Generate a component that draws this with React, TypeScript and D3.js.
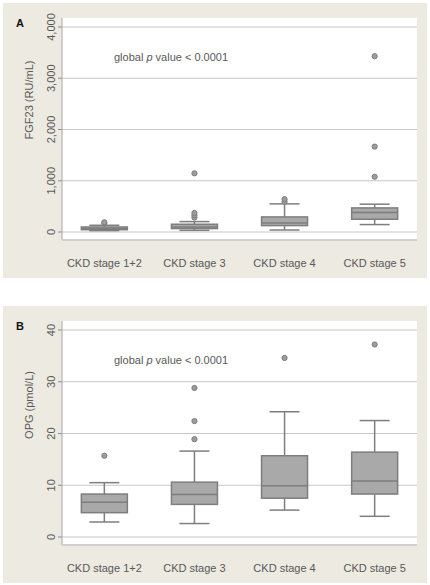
import React from "react";
import * as d3 from "d3";

const categories = ["CKD stage 1+2", "CKD stage 3", "CKD stage 4", "CKD stage 5"];

// Panel A: FGF23 (RU/mL)
const fgfLow = [27, 33, 39, 145];
const fgfQ1 = [45, 67, 125, 249];
const fgfMedian = [70, 100, 176, 380];
const fgfQ3 = [98, 151, 294, 470];
const fgfHigh = [131, 203, 549, 543];
const fgfOutliers = [[170, 190], [282, 327, 372, 1145], [588, 641], [1078, 1666, 3430]];
const fgfTicks = [0, 1000, 2000, 3000, 4000];

// Panel B: OPG (pmol/L)
const opgLow = [2.9, 2.6, 5.2, 4.0];
const opgQ1 = [4.7, 6.3, 7.5, 8.3];
const opgMedian = [6.7, 8.2, 9.9, 10.8];
const opgQ3 = [8.3, 10.6, 15.7, 16.4];
const opgHigh = [10.5, 16.6, 24.2, 22.5];
const opgOutliers = [[15.7], [18.9, 22.4, 28.8], [34.6], [37.2]];
const opgTicks = [0, 10, 20, 30, 40];

const FONT = "'Liberation Sans', Arial, sans-serif";
const TEXT = "#595959";

type PanelProps = {
  top: number;
  height: number;
  letter: string;
  yTitle: string;
  titleCenter: number;
  domainMax: number;
  ticks: number[];
  low: number[];
  q1: number[];
  med: number[];
  q3: number[];
  high: number[];
  outliers: number[][];
  tickFormat: (v: number) => string;
};

function Panel(p: PanelProps) {
  const bgX = 3, bgW = 424;
  const plotL = 62, plotR = 417;
  const plotT = p.top + 15;
  const plotB = p.top + p.height - 38;
  const y0 = plotB - 8;
  const y1 = plotT + 9;
  const x = d3.scalePoint<string>().domain(categories).range([plotL, plotR]).padding(0.47);
  const y = d3.scaleLinear().domain([0, p.domainMax]).range([y0, y1]);
  const boxW = 46, capW = 30;
  return (
    <g>
      <rect x={bgX} y={p.top} width={bgW} height={p.height} fill="#ECEAE1" />
      <rect x={plotL} y={plotT} width={plotR - plotL} height={plotB - plotT} fill="#ffffff" />
      {p.ticks.map((t) => (
        <g key={t}>
          <line x1={plotL} x2={plotR} y1={y(t)} y2={y(t)} stroke="#C6C6C6" strokeWidth={1} />
          <line x1={plotL - 4} x2={plotL} y1={y(t)} y2={y(t)} stroke="#8C8C8C" strokeWidth={1} />
          <text
            transform={`translate(55,${y(t)}) rotate(-90)`}
            textAnchor="middle"
            fontFamily={FONT}
            fontSize={11}
            fill={TEXT}
          >
            {p.tickFormat(t)}
          </text>
        </g>
      ))}
      <line x1={plotL} x2={plotL} y1={plotT} y2={plotB} stroke="#A8A8A8" strokeWidth={1} />
      <line x1={plotL} x2={plotR} y1={plotB} y2={plotB} stroke="#CFCFCF" strokeWidth={2} />
      <text
        transform={`translate(33,${p.titleCenter}) rotate(-90)`}
        textAnchor="middle"
        fontFamily={FONT}
        fontSize={11}
        fill={TEXT}
      >
        {p.yTitle}
      </text>
      <text x={16} y={p.top + 24} fontFamily={FONT} fontSize={11} fontWeight="bold" fill="#111">
        {p.letter}
      </text>
      <text x={114} y={p.top + 58} fontFamily={FONT} fontSize={11} fill={TEXT}>
        global <tspan fontStyle="italic">p</tspan> value &lt; 0.0001
      </text>
      {categories.map((c, i) => {
        const cx = x(c) as number;
        return (
          <g key={c}>
            <line x1={cx} x2={cx} y1={y(p.high[i])} y2={y(p.q3[i])} stroke="#7E7E7E" strokeWidth={1.5} />
            <line x1={cx} x2={cx} y1={y(p.low[i])} y2={y(p.q1[i])} stroke="#7E7E7E" strokeWidth={1.5} />
            <line x1={cx - capW / 2} x2={cx + capW / 2} y1={y(p.high[i])} y2={y(p.high[i])} stroke="#7E7E7E" strokeWidth={1.5} />
            <line x1={cx - capW / 2} x2={cx + capW / 2} y1={y(p.low[i])} y2={y(p.low[i])} stroke="#7E7E7E" strokeWidth={1.5} />
            <rect
              x={cx - boxW / 2}
              y={y(p.q3[i])}
              width={boxW}
              height={y(p.q1[i]) - y(p.q3[i])}
              fill="#A9A9A9"
              stroke="#7E7E7E"
              strokeWidth={1.5}
            />
            <line x1={cx - boxW / 2} x2={cx + boxW / 2} y1={y(p.med[i])} y2={y(p.med[i])} stroke="#7E7E7E" strokeWidth={1.5} />
            {p.outliers[i].map((o, j) => (
              <circle key={j} cx={cx} cy={y(o)} r={2.6} fill="#9C9C9C" stroke="#7E7E7E" strokeWidth={1} />
            ))}
            <text x={cx} y={plotB + 27} textAnchor="middle" fontFamily={FONT} fontSize={11} fill={TEXT}>
              {c}
            </text>
          </g>
        );
      })}
    </g>
  );
}

export default function App() {
  const fmt = d3.format(",");
  return (
    <svg width={430} height={585} style={{ position: "absolute", left: 0, top: 0 }}>
      <rect x={0} y={0} width={430} height={585} fill="#ffffff" />
      <Panel
        top={3}
        height={275}
        letter="A"
        yTitle="FGF23 (RU/mL)"
        titleCenter={100}
        domainMax={4000}
        ticks={fgfTicks}
        low={fgfLow}
        q1={fgfQ1}
        med={fgfMedian}
        q3={fgfQ3}
        high={fgfHigh}
        outliers={fgfOutliers}
        tickFormat={(v) => fmt(v)}
      />
      <Panel
        top={306}
        height={277}
        letter="B"
        yTitle="OPG (pmol/L)"
        titleCenter={405}
        domainMax={40}
        ticks={opgTicks}
        low={opgLow}
        q1={opgQ1}
        med={opgMedian}
        q3={opgQ3}
        high={opgHigh}
        outliers={opgOutliers}
        tickFormat={(v) => String(v)}
      />
    </svg>
  );
}
